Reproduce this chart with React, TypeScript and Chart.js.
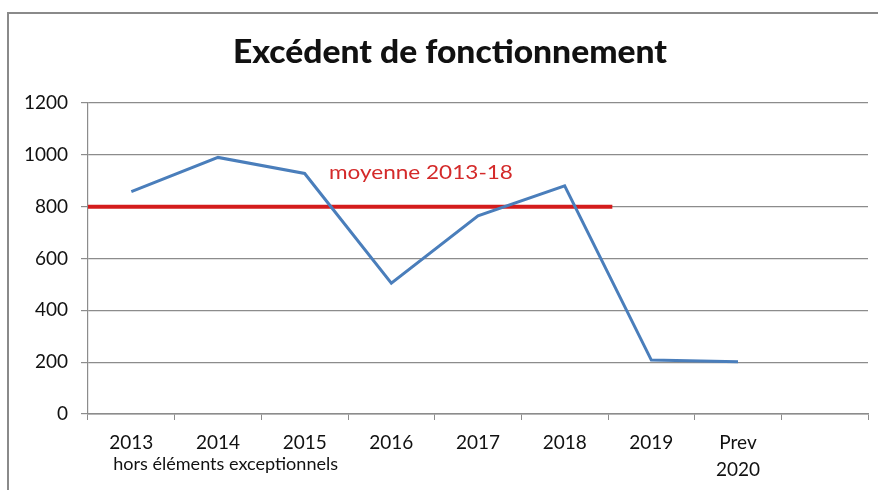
import React, { useEffect, useRef } from 'react';
import { Chart, registerables } from 'chart.js';
Chart.register(...registerables);

const categories: (string | string[])[] = ['2013', '2014', '2015', '2016', '2017', '2018', '2019', ['Prev', '2020'], ''];
const excedent: (number | null)[] = [858, 990, 928, 505, 765, 880, 208, 202, null];
const moyenneValue = 800;
const moyenneSpan = [-0.5, 5.55];
const yMin = 0;
const yMax = 1200;
const yStep = 200;
const titleText = 'Excédent de fonctionnement';
const moyenneLabel = 'moyenne 2013-18';
const noteLabel = 'hors éléments exceptionnels';

const FONT = 'Lato, "Open Sans", sans-serif';

function fitText(ctx: CanvasRenderingContext2D, text: string, x: number, y: number, width: number) {
  const w = ctx.measureText(text).width;
  const s = width / w;
  ctx.save();
  ctx.translate(x, y);
  ctx.scale(s, 1);
  ctx.fillText(text, 0, 0);
  ctx.restore();
}

const textPlugin = {
  id: 'texts',
  afterDraw(chart: any) {
    const { ctx, chartArea, scales } = chart;
    ctx.save();
    ctx.fillStyle = '#111';
    ctx.font = `900 32px ${FONT}`;
    ctx.textAlign = 'left';
    ctx.textBaseline = 'alphabetic';
    fitText(ctx, titleText, 233, 63, 434);

    ctx.fillStyle = '#d42a2a';
    ctx.font = `20px ${FONT}`;
    ctx.textBaseline = 'middle';
    fitText(ctx, moyenneLabel, scales.x2.getPixelForValue(2.28), scales.y.getPixelForValue(933), 184);

    ctx.fillStyle = '#111';
    ctx.font = `18px ${FONT}`;
    fitText(ctx, noteLabel, scales.x2.getPixelForValue(-0.21), chartArea.bottom + 50, 225);
    ctx.restore();
  },
};

export default function App() {
  const ref = useRef<HTMLCanvasElement>(null);
  useEffect(() => {
    if (!ref.current) return;
    const chart = new Chart(ref.current, {
      type: 'line',
      data: {
        labels: categories as any,
        datasets: [
          {
            label: 'Excédent',
            data: excedent,
            borderColor: '#4a7ebb',
            borderWidth: 3,
            pointRadius: 0,
            tension: 0,
            xAxisID: 'x',
            yAxisID: 'y',
          },
          {
            label: 'moyenne',
            data: [
              { x: moyenneSpan[0], y: moyenneValue },
              { x: moyenneSpan[1], y: moyenneValue },
            ] as any,
            borderColor: '#d41c1c',
            borderWidth: 4,
            pointRadius: 0,
            xAxisID: 'x2',
            yAxisID: 'y',
          },
        ],
      },
      options: {
        animation: false,
        responsive: false,
        layout: { padding: { top: 103, right: 10, left: 0, bottom: 0 } },
        plugins: { legend: { display: false }, tooltip: { enabled: false }, title: { display: false } },
        scales: {
          x: {
            type: 'category',
            offset: true,
            grid: { offset: true, drawOnChartArea: false, drawTicks: true, tickLength: 6, color: '#8c8c8c' },
            border: { color: '#8c8c8c', width: 1.5 },
            ticks: { color: '#111', font: { family: FONT, size: 19, lineHeight: 1.4 }, padding: 10, maxRotation: 0, autoSkip: false },
            afterFit(scale: any) { scale.height = 76; },
          },
          x2: {
            type: 'linear',
            display: false,
            min: -0.5,
            max: 8.5,
          },
          y: {
            min: yMin,
            max: yMax,
            grid: { color: '#8c8c8c', lineWidth: 1.2, tickLength: 7 },
            border: { color: '#8c8c8c', width: 1.2 },
            ticks: {
              stepSize: yStep,
              color: '#111',
              font: { family: FONT, size: 19 },
              padding: 13,
              callback: (v: any) => String(v),
            },
            afterFit(scale: any) { scale.width = 88; },
          },
        },
      },
      plugins: [textPlugin],
    });
    return () => chart.destroy();
  }, []);
  return (
    <div style={{ position: 'fixed', left: 0, top: 0, width: 878, height: 490, background: '#fff', overflow: 'hidden' }}>
      <div style={{ position: 'absolute', left: 7, top: 12, width: 900, height: 500, border: '2px solid #8a8a8a' }} />
      <canvas ref={ref} width={878} height={490} style={{ position: 'absolute', left: 0, top: 0 }} />
    </div>
  );
}
